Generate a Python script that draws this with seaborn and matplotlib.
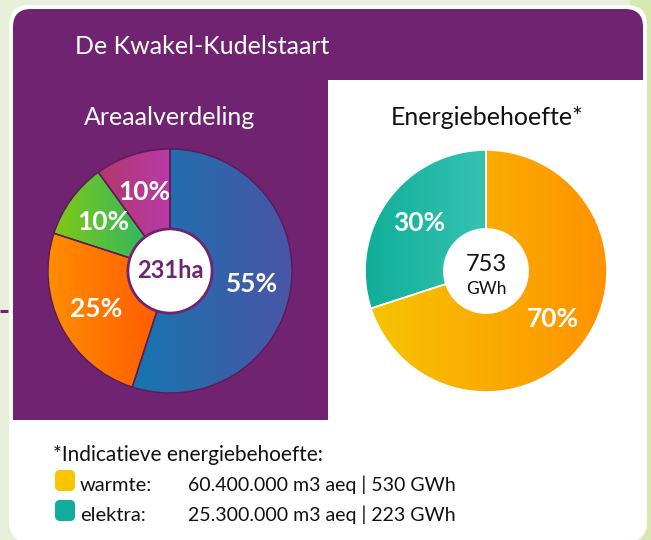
import numpy as np
import matplotlib.pyplot as plt
import seaborn as sns
from matplotlib.patches import FancyBboxPatch, Rectangle, Circle

# -----------------------------
# data
# -----------------------------
area_shares = [55, 25, 10, 10]
area_total = '231ha'

energy_names = ['warmte', 'elektra']
energy_shares = [70, 30]
energy_m3 = ['60.400.000', '25.300.000']
energy_gwh = [530, 223]

# gradient (left colour, right colour) per slice
area_grad = [('#1675b0', '#4a55a6'), ('#ff8d00', '#ff5700'),
             ('#80c816', '#1db474'), ('#b3376a', '#b83aa8')]
energy_grad = [('#f6c400', '#ff9200'), ('#0faf98', '#36c2b2')]
legend_colors = ['#f7c400', '#10ae9a']

PURPLE = '#6f2370'
W, H = 651, 540

sns.set_theme(style='white')
plt.rcParams['font.family'] = ['Lato', 'DejaVu Sans']

fig = plt.figure(figsize=(W / 100, H / 100), dpi=100)
fig.patch.set_facecolor('#e9f0d9')

# background axes in pixel coordinates
bg = fig.add_axes([0, 0, 1, 1])
bg.set_xlim(0, W)
bg.set_ylim(H, 0)
bg.axis('off')

bg.add_patch(Rectangle((630, 0), 21, H, fc='#d6e9ae', ec='none'))
bg.add_patch(FancyBboxPatch((9, 5), 638, 537, boxstyle='round,pad=0,rounding_size=20',
                            fc='white', ec='none'))
bg.add_patch(FancyBboxPatch((13, 9), 630, 100, boxstyle='round,pad=0,rounding_size=18',
                            fc=PURPLE, ec='none'))
bg.add_patch(Rectangle((13, 60), 315, 360, fc=PURPLE, ec='none'))
bg.add_patch(Rectangle((328, 80), 315, 40, fc='white', ec='none'))
bg.plot([0, 8], [310.5, 310.5], color=PURPLE, lw=2.2, solid_capstyle='butt')

bg.text(75, 54, 'De Kwakel-Kudelstaart', color='white', fontsize=18, va='baseline')
bg.text(170, 125, 'Areaalverdeling', color='white', fontsize=18, ha='center', va='baseline')
bg.text(487, 125, 'Energiebehoefte*', color='#111111', fontsize=18, ha='center', va='baseline')


def pie_axes(cx, cy, r):
    ax = fig.add_axes([(cx - r) / W, (H - cy - r) / H, 2 * r / W, 2 * r / H])
    return ax


def fill_gradient(ax, wedge, c0, c1):
    cmap = sns.blend_palette([c0, c1], as_cmap=True)
    ext = wedge.get_path().get_extents()
    img = ax.imshow(np.linspace(0, 1, 256)[None, :], cmap=cmap, aspect='auto',
                    extent=(ext.x0, ext.x1, ext.y0, ext.y1), origin='lower',
                    interpolation='bilinear', zorder=1)
    img.set_clip_path(wedge)
    wedge.set_facecolor('none')
    wedge.set_zorder(3)


def draw_pie(ax, shares, grads, edge, lw):
    wedges, _, autotexts = ax.pie(
        shares, startangle=90, counterclock=False, radius=1,
        autopct=lambda p: f'{round(p)}%', pctdistance=0.68,
        wedgeprops=dict(linewidth=lw, edgecolor=edge),
        textprops=dict(color='white', fontsize=19, fontweight='bold'))
    for w, (c0, c1) in zip(wedges, grads):
        fill_gradient(ax, w, c0, c1)
    for t in autotexts:
        t.set_zorder(5)
    ax.set_xlim(-1, 1)
    ax.set_ylim(-1, 1)
    ax.axis('off')


# -----------------------------
# Areaalverdeling
# -----------------------------
ax1 = pie_axes(170, 271, 122)
draw_pie(ax1, area_shares, area_grad, '#5a1a5a', 1.0)
ax1.add_patch(Circle((0, 0), 0.345, fc='white', ec=PURPLE, lw=2, zorder=4))
ax1.text(0, 0, area_total, color=PURPLE, fontsize=17, fontweight='bold',
         ha='center', va='center', zorder=6)

# -----------------------------
# Energiebehoefte
# -----------------------------
ax2 = pie_axes(486, 271, 121)
draw_pie(ax2, energy_shares, energy_grad, 'white', 1.2)
ax2.add_patch(Circle((0, 0), 0.355, fc='white', ec='none', zorder=4))
ax2.text(0, 0.05, f'{sum(energy_gwh)}', color='#111111', fontsize=17,
         ha='center', va='center', zorder=6)
ax2.text(0, -0.15, 'GWh', color='#111111', fontsize=12.5,
         ha='center', va='center', zorder=6)

# -----------------------------
# legend text
# -----------------------------
bg.text(53, 461, '*Indicatieve energiebehoefte:', color='#111111', fontsize=15, va='baseline')
for i, (name, m3, gwh, col) in enumerate(zip(energy_names, energy_m3, energy_gwh, legend_colors)):
    y = 491 + i * 30
    bg.add_patch(FancyBboxPatch((55, y - 21), 20, 21, boxstyle='round,pad=0,rounding_size=5',
                                fc=col, ec='none'))
    bg.text(80, y, f'{name}:', color='#111111', fontsize=14.5, va='baseline')
    bg.text(188, y, f'{m3} m3 aeq | {gwh} GWh', color='#111111', fontsize=14, va='baseline')

fig.savefig('out.png', dpi=100, facecolor=fig.get_facecolor())
